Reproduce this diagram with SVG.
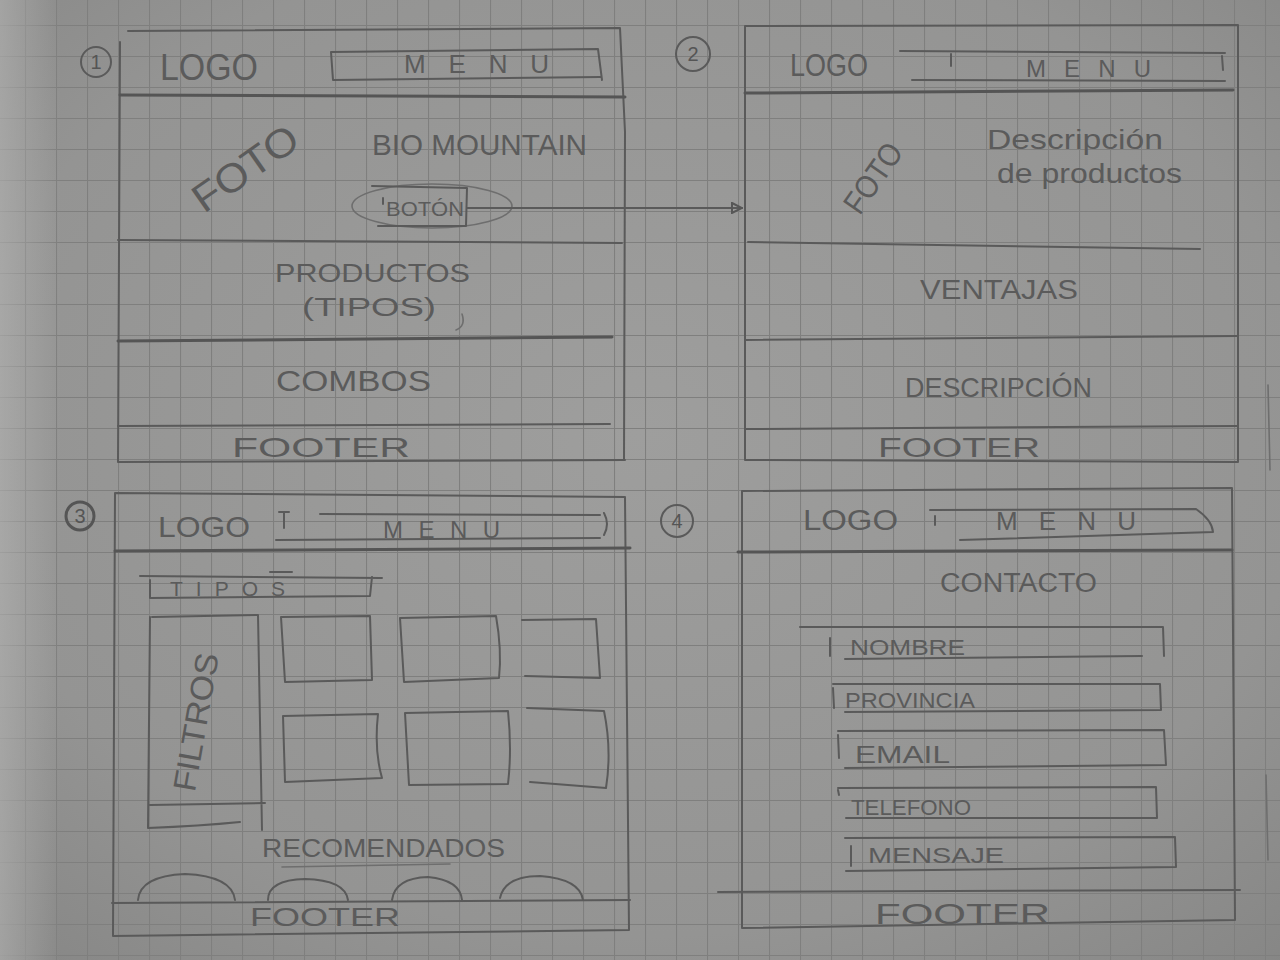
<svg xmlns="http://www.w3.org/2000/svg" width="1280" height="960" viewBox="0 0 1280 960">
  <defs>
    <radialGradient id="paper" cx="0.5" cy="0.45" r="0.75">
      <stop offset="0" stop-color="#9e9e9d"/>
      <stop offset="0.7" stop-color="#949493"/>
      <stop offset="1" stop-color="#868685"/>
    </radialGradient>
    <linearGradient id="edge" x1="0" y1="0" x2="1" y2="0">
      <stop offset="0" stop-color="#b4b4b3" stop-opacity="0.6"/>
      <stop offset="1" stop-color="#b4b4b3" stop-opacity="0"/>
    </linearGradient>
    <pattern id="grid" x="25" y="25" width="31" height="31" patternUnits="userSpaceOnUse">
      <path d="M0,0.5 H31 M0.5,0 V31" fill="none" stroke="#7f7f7e" stroke-width="1.2"/>
    </pattern>
    <marker id="head" viewBox="0 0 12 12" refX="11" refY="6" markerWidth="12" markerHeight="12" markerUnits="userSpaceOnUse" orient="auto">
      <path d="M1,1 L11,6 L1,11 Z" fill="none" stroke="#575757" stroke-width="2"/>
    </marker>
  </defs>
  <style>
    .pen { fill: none; stroke: #5a5a5a; stroke-width: 2; stroke-linecap: round; stroke-linejoin: round; }
    .bold { stroke-width: 3; stroke: #555; }
    .soft { stroke: #6e6e6e; stroke-width: 1.6; }
    .hw { font-family: "Liberation Sans", "DejaVu Sans", sans-serif; fill: #5b5b5b; }
    .num { font-family: "Liberation Sans", sans-serif; fill: #555; font-size: 20px; text-anchor: middle; }
  </style>

  <!-- paper -->
  <rect width="1280" height="960" fill="url(#paper)"/>
  <rect width="1280" height="960" fill="url(#grid)"/>
  <rect width="60" height="960" fill="url(#edge)"/>
  <path class="pen soft" d="M1268,385 L1270,470 M1266,775 L1268,860"/>

  <!-- page 1: home -->
  <g id="wire-1">
    <circle class="pen" cx="96" cy="62" r="15"/>
    <text class="num" x="96" y="69">1</text>
    <path class="pen" d="M128,31 L620,28 L625,132 L624,460"/>
    <path class="pen" d="M120,42 L118,462 L625,460"/>
    <path class="pen bold" d="M120,95 L625,97"/>
    <g id="w1-header">
      <text class="hw" x="160" y="80" font-size="36" textLength="98" lengthAdjust="spacingAndGlyphs">LOGO</text>
      <path class="pen" d="M331,52 L598,49 L602,80 M331,52 L333,80 L600,77"/>
      <text class="hw" x="404" y="73" font-size="26" textLength="145" lengthAdjust="spacing">MENU</text>
    </g>
    <g id="w1-hero">
      <text class="hw" font-size="40" textLength="120" lengthAdjust="spacingAndGlyphs" transform="translate(245,168) rotate(-35)" x="-60" y="14">FOTO</text>
      <text class="hw" x="372" y="155" font-size="30" textLength="215" lengthAdjust="spacingAndGlyphs">BIO MOUNTAIN</text>
      <ellipse class="pen soft" cx="432" cy="206" rx="80" ry="22"/>
      <path class="pen" d="M372,186 L467,188 L466,226 L378,226 M383,198 L383,204"/>
      <text class="hw" x="386" y="216" font-size="20" textLength="78" lengthAdjust="spacingAndGlyphs">BOTÓN</text>
    </g>
    <path class="pen" d="M118,240 L622,243"/>
    <g id="w1-productos">
      <text class="hw" x="275" y="282" font-size="26" textLength="195" lengthAdjust="spacingAndGlyphs">PRODUCTOS</text>
      <text class="hw" x="302" y="316" font-size="26" textLength="134" lengthAdjust="spacingAndGlyphs">(TIPOS)</text>
      <path class="pen soft" d="M462,314 Q466,326 456,330"/>
    </g>
    <path class="pen bold" d="M118,341 L612,337"/>
    <g id="w1-combos">
      <text class="hw" x="276" y="391" font-size="30" textLength="155" lengthAdjust="spacingAndGlyphs">COMBOS</text>
    </g>
    <path class="pen" d="M118,426 L610,424"/>
    <g id="w1-footer">
      <text class="hw" x="232" y="457" font-size="28" textLength="178" lengthAdjust="spacingAndGlyphs">FOOTER</text>
    </g>
  </g>

  <!-- page 2: product detail -->
  <g id="wire-2">
    <circle class="pen" cx="693" cy="54" r="17"/>
    <text class="num" x="693" y="61">2</text>
    <path class="pen" d="M745,26 L1238,25 L1238,462 L745,460 Z"/>
    <path class="pen bold" d="M745,93 L1233,90"/>
    <g id="w2-header">
      <text class="hw" x="790" y="76" font-size="32" textLength="78" lengthAdjust="spacingAndGlyphs">LOGO</text>
      <path class="pen" d="M900,51 L1225,53 M912,80 L1225,81 M951,54 L951,66 M1222,56 L1223,70"/>
      <text class="hw" x="1026" y="77" font-size="24" textLength="125" lengthAdjust="spacing">MENU</text>
    </g>
    <g id="w2-hero">
      <text class="hw" font-size="32" textLength="78" lengthAdjust="spacingAndGlyphs" transform="translate(873,178) rotate(-55)" x="-39" y="11">FOTO</text>
      <text class="hw" x="987" y="149" font-size="28" textLength="176" lengthAdjust="spacingAndGlyphs">Descripción</text>
      <text class="hw" x="997" y="183" font-size="28" textLength="185" lengthAdjust="spacingAndGlyphs">de productos</text>
    </g>
    <path class="pen" d="M748,242 L1200,249"/>
    <g id="w2-ventajas">
      <text class="hw" x="920" y="299" font-size="28" textLength="158" lengthAdjust="spacingAndGlyphs">VENTAJAS</text>
    </g>
    <path class="pen" d="M745,340 L1237,336"/>
    <g id="w2-descripcion">
      <text class="hw" x="905" y="397" font-size="28" textLength="187" lengthAdjust="spacingAndGlyphs">DESCRIPCIÓN</text>
    </g>
    <path class="pen" d="M745,429 L1237,426"/>
    <g id="w2-footer">
      <text class="hw" x="878" y="457" font-size="27" textLength="162" lengthAdjust="spacingAndGlyphs">FOOTER</text>
    </g>
  </g>

  <!-- page 3: catalogue -->
  <g id="wire-3">
    <circle class="pen bold" cx="80" cy="516" r="14"/>
    <text class="num" x="80" y="523">3</text>
    <path class="pen" d="M115,493 L625,497 L629,930 L113,936 Z"/>
    <path class="pen bold" d="M115,551 L630,548"/>
    <g id="w3-header">
      <text class="hw" x="158" y="537" font-size="30" textLength="92" lengthAdjust="spacingAndGlyphs">LOGO</text>
      <path class="pen" d="M279,512 L289,512 M284,512 L284,528 M320,514 L600,515 M276,540 L600,538 M604,513 Q610,524 604,535"/>
      <text class="hw" x="383" y="538" font-size="24" textLength="117" lengthAdjust="spacing">MENU</text>
    </g>
    <g id="w3-tipos">
      <path class="pen" d="M140,576 L382,578 M270,572 L292,572 M150,580 L150,598 L370,596 L372,577"/>
      <text class="hw" x="170" y="596" font-size="21" textLength="115" lengthAdjust="spacing">TIPOS</text>
    </g>
    <g id="w3-filtros">
      <path class="pen" d="M152,617 L258,615 L262,830 M150,617 L148,828 Q200,826 240,822 M150,805 L265,803"/>
      <text class="hw" font-size="32" textLength="140" lengthAdjust="spacingAndGlyphs" transform="translate(196,722) rotate(-80)" x="-70" y="11">FILTROS</text>
    </g>
    <g id="w3-items">
      <path class="pen" d="M281,617 L370,616 L372,680 L285,682 Z"/>
      <path class="pen" d="M400,618 L496,616 Q502,650 499,678 L404,682 Z"/>
      <path class="pen" d="M522,620 L596,619 L600,678 L525,676"/>
      <path class="pen" d="M283,716 L378,714 Q374,750 382,778 L285,782 Z"/>
      <path class="pen" d="M405,713 L508,711 Q512,750 508,784 L409,785 Z"/>
      <path class="pen" d="M527,708 L604,711 Q612,750 606,788 L530,782"/>
    </g>
    <g id="w3-recomendados">
      <text class="hw" x="262" y="857" font-size="25" textLength="243" lengthAdjust="spacingAndGlyphs">RECOMENDADOS</text>
      <path class="pen soft" d="M282,867 L450,864"/>
      <path class="pen" d="M138,900 Q140,876 185,874 Q232,876 235,900"/>
      <path class="pen" d="M268,900 Q268,880 305,879 Q345,880 348,900"/>
      <path class="pen" d="M392,900 Q395,878 428,877 Q460,880 462,900"/>
      <path class="pen" d="M500,898 Q505,876 540,876 Q580,879 583,900"/>
    </g>
    <path class="pen" d="M112,903 L630,900"/>
    <g id="w3-footer">
      <text class="hw" x="250" y="926" font-size="26" textLength="150" lengthAdjust="spacingAndGlyphs">FOOTER</text>
    </g>
  </g>

  <!-- page 4: contact -->
  <g id="wire-4">
    <circle class="pen" cx="677" cy="521" r="16"/>
    <text class="num" x="677" y="528">4</text>
    <path class="pen" d="M742,491 L1232,488 L1235,920 L742,928 Z"/>
    <path class="pen bold" d="M738,552 L1232,550"/>
    <g id="w4-header">
      <text class="hw" x="803" y="530" font-size="30" textLength="95" lengthAdjust="spacingAndGlyphs">LOGO</text>
      <path class="pen" d="M930,510 L1196,509 Q1212,520 1213,532 L960,540 M935,516 L935,525"/>
      <text class="hw" x="996" y="530" font-size="26" textLength="140" lengthAdjust="spacing">MENU</text>
    </g>
    <g id="w4-contacto">
      <text class="hw" x="940" y="592" font-size="27" textLength="157" lengthAdjust="spacingAndGlyphs">CONTACTO</text>
    </g>
    <g id="w4-nombre">
      <path class="pen" d="M800,627 L1163,627 L1164,656 M845,659 L1142,656 M830,638 L830,656"/>
      <text class="hw" x="850" y="655" font-size="22" textLength="115" lengthAdjust="spacingAndGlyphs">NOMBRE</text>
    </g>
    <g id="w4-provincia">
      <path class="pen" d="M833,684 L1160,684 L1161,710 L845,712 M833,688 L834,708"/>
      <text class="hw" x="845" y="708" font-size="22" textLength="130" lengthAdjust="spacingAndGlyphs">PROVINCIA</text>
    </g>
    <g id="w4-email">
      <path class="pen" d="M838,731 L1164,730 L1166,765 L845,768 M838,735 L839,758"/>
      <text class="hw" x="855" y="763" font-size="24" textLength="95" lengthAdjust="spacingAndGlyphs">EMAIL</text>
    </g>
    <g id="w4-telefono">
      <path class="pen" d="M838,788 L1156,787 L1157,818 L846,818 M838,790 L839,795"/>
      <text class="hw" x="851" y="815" font-size="22" textLength="120" lengthAdjust="spacingAndGlyphs">TELEFONO</text>
    </g>
    <g id="w4-mensaje">
      <path class="pen" d="M845,838 L1175,837 L1176,867 L846,871 M851,846 L851,866"/>
      <text class="hw" x="868" y="863" font-size="22" textLength="136" lengthAdjust="spacingAndGlyphs">MENSAJE</text>
    </g>
    <path class="pen" d="M718,892 L1240,890"/>
    <g id="w4-footer">
      <text class="hw" x="875" y="924" font-size="29" textLength="175" lengthAdjust="spacingAndGlyphs">FOOTER</text>
    </g>
  </g>

  <!-- navigation between pages -->
  <g id="connectors">
    <path class="pen" d="M467,208 L742,208" marker-end="url(#head)"/>
  </g>
</svg>
